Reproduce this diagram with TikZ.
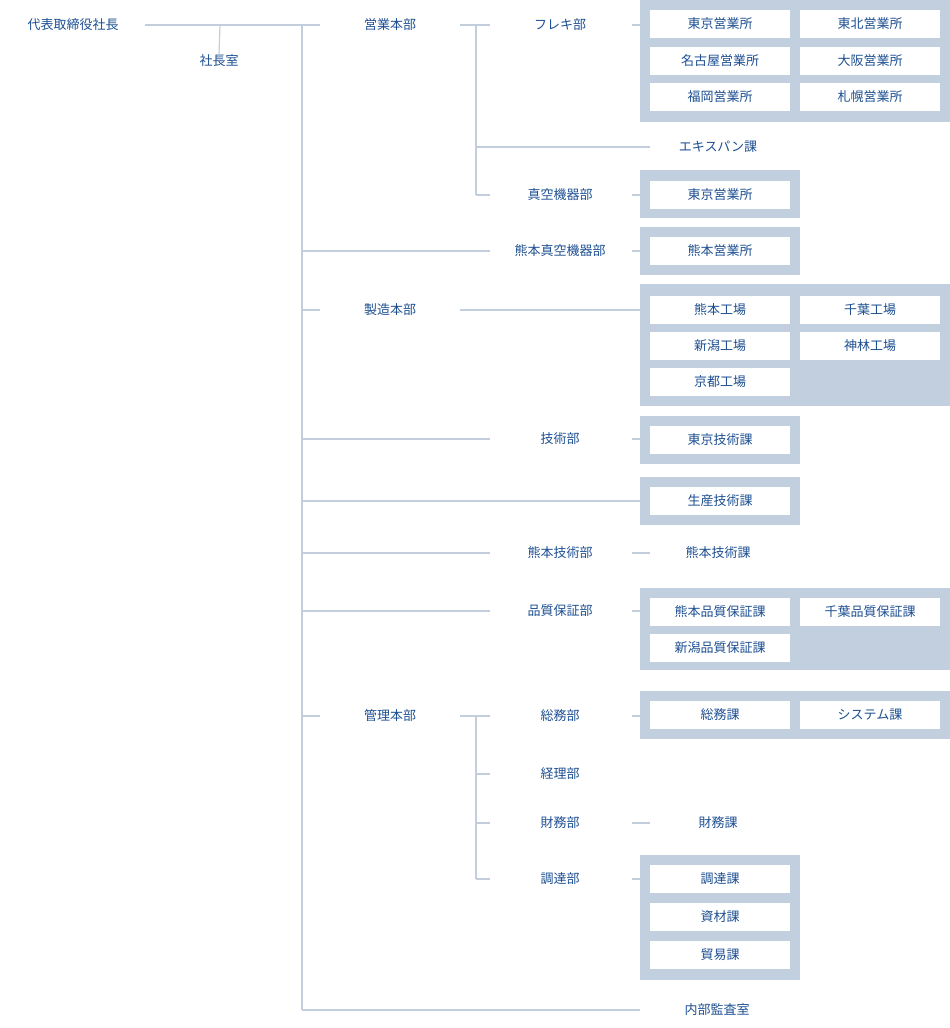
\documentclass[tikz,border=0pt]{standalone}
\usepackage{fontspec}
\newfontfamily\cjk{Noto Sans CJK JP}
\definecolor{ln}{HTML}{C3CEDD}
\definecolor{gb}{HTML}{C2CFDF}
\definecolor{tx}{HTML}{1D4F91}
\begin{document}
\begin{tikzpicture}[x=1pt,y=-1pt,
 t/.style={text=tx,font=\cjk\fontsize{13}{15}\selectfont,inner sep=0pt},
 wb/.style={t,fill=white,minimum width=140pt,minimum height=28pt},
 gray/.style={fill=gb},
 c/.style={draw=ln,line width=1.2pt}]
\useasboundingbox (0,0) rectangle (950,1028);
% gray panels
\fill[gray] (640,0) rectangle (950,122);
\fill[gray] (640,170) rectangle (800,218);
\fill[gray] (640,227) rectangle (800,275);
\fill[gray] (640,284) rectangle (950,406);
\fill[gray] (640,416) rectangle (800,464);
\fill[gray] (640,477) rectangle (800,525);
\fill[gray] (640,588) rectangle (950,670);
\fill[gray] (640,691) rectangle (950,739);
\fill[gray] (640,855) rectangle (800,980);
% text nodes
\node[t] (ceo) at (73,25) {代表取締役社長};
\node[t] (shacho) at (219,61) {社長室};
\node[t] (eigyo) at (390,25) {営業本部};
\node[t] (seizo) at (390,310) {製造本部};
\node[t] (kanri) at (390,716) {管理本部};
\node[t] (fureki) at (560,25) {フレキ部};
\node[t] (shinku) at (560,195) {真空機器部};
\node[t] (kshinku) at (560,251) {熊本真空機器部};
\node[t] (gijutsu) at (560,439) {技術部};
\node[t] (kgijutsu) at (560,553) {熊本技術部};
\node[t] (hinshitsu) at (560,611) {品質保証部};
\node[t] (somu) at (560,716) {総務部};
\node[t] (keiri) at (560,774) {経理部};
\node[t] (zaimu) at (560,823) {財務部};
\node[t] (chotatsu) at (560,879) {調達部};
\node[t] (expan) at (718,147) {エキスパン課};
\node[t] (kgk) at (718,553) {熊本技術課};
\node[t] (zaimuka) at (718,823) {財務課};
\node[t] (kansa) at (717,1010) {内部監査室};
% white boxes
\node[wb] (b1) at (720,24) {東京営業所};
\node[wb] (b2) at (870,24) {東北営業所};
\node[wb] (b3) at (720,61) {名古屋営業所};
\node[wb] (b4) at (870,61) {大阪営業所};
\node[wb] (b5) at (720,97) {福岡営業所};
\node[wb] (b6) at (870,97) {札幌営業所};
\node[wb] (b7) at (720,195) {東京営業所};
\node[wb] (b8) at (720,251) {熊本営業所};
\node[wb] (b9) at (720,310) {熊本工場};
\node[wb] (b10) at (870,310) {千葉工場};
\node[wb] (b11) at (720,346) {新潟工場};
\node[wb] (b12) at (870,346) {神林工場};
\node[wb] (b13) at (720,382) {京都工場};
\node[wb] (b14) at (720,440) {東京技術課};
\node[wb] (b15) at (720,501) {生産技術課};
\node[wb] (b16) at (720,612) {熊本品質保証課};
\node[wb] (b17) at (870,612) {千葉品質保証課};
\node[wb] (b18) at (720,648) {新潟品質保証課};
\node[wb] (b19) at (720,715) {総務課};
\node[wb] (b20) at (870,715) {システム課};
\node[wb] (b21) at (720,879) {調達課};
\node[wb] (b22) at (720,917) {資材課};
\node[wb] (b23) at (720,955) {貿易課};
% connector coordinates
\coordinate (m0) at (302,25);
\coordinate (m1) at (302,1010);
\coordinate (s0) at (476,25);
\coordinate (s1) at (476,195);
\coordinate (k0) at (476,716);
\coordinate (k1) at (476,879);
% connectors
\draw[c] (145,25) -- (eigyo.west -| 320,0);
\draw[c] (220,25) -- (shacho.north);
\draw[c] (m0) -- (m1);
\draw[c] (302,310) -- (320,310);
\draw[c] (302,716) -- (320,716);
\draw[c] (302,251) -- (490,251);
\draw[c] (302,439) -- (490,439);
\draw[c] (302,501) -- (640,501);
\draw[c] (302,553) -- (490,553);
\draw[c] (302,611) -- (490,611);
\draw[c] (m1) -- (640,1010);
\draw[c] (460,25) -- (490,25);
\draw[c] (s0) -- (s1);
\draw[c] (476,147) -- (650,147);
\draw[c] (476,195) -- (490,195);
\draw[c] (460,310) -- (640,310);
\draw[c] (460,716) -- (490,716);
\draw[c] (k0) -- (k1);
\draw[c] (476,774) -- (490,774);
\draw[c] (476,823) -- (490,823);
\draw[c] (476,879) -- (490,879);
\foreach \y in {25,195,251,439,553,611,716,823,879}
  \draw[c] (632,\y) -- (640,\y);
\draw[c] (640,553) -- (650,553);
\draw[c] (640,823) -- (650,823);
\end{tikzpicture}
\end{document}
